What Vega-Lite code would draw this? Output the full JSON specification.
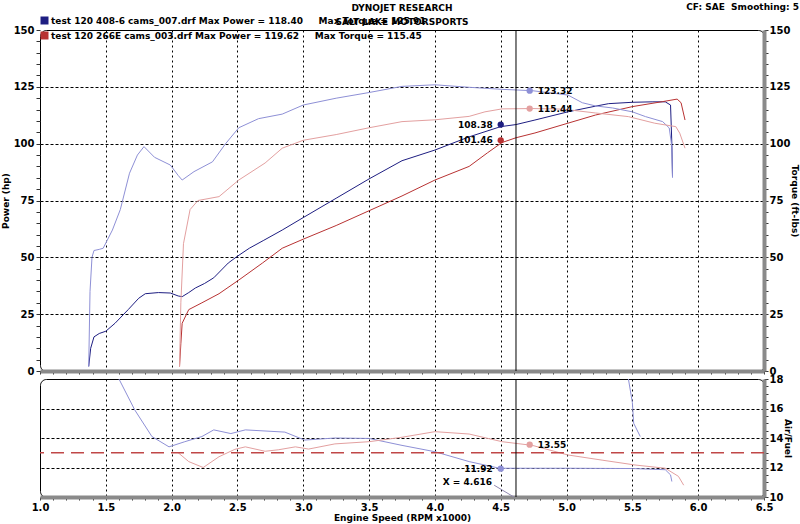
{
  "$schema": "https://vega.github.io/schema/vega-lite/v6.json",
  "background": "white",
  "padding": {"left": 0, "top": 2, "right": 0, "bottom": 0},
  "config": {
    "font": "DejaVu Sans",
    "view": {"stroke": "#000", "strokeWidth": 1, "cornerRadius": 6},
    "axis": {"labelFont": "DejaVu Sans", "labelFontWeight": "bold", "labelFontSize": 10, "labelColor": "#000", "titleFont": "DejaVu Sans", "titleFontSize": 9, "titleFontWeight": "bold", "titleColor": "#000"}
  },
  "datasets": {
    "power": [
      {"rpm": 1.37, "v": 2, "series": "p408"}, {"rpm": 1.385, "v": 10, "series": "p408"}, {"rpm": 1.41, "v": 15, "series": "p408"}, {"rpm": 1.45, "v": 16.5, "series": "p408"}, {"rpm": 1.5, "v": 17.5, "series": "p408"}, {"rpm": 1.57, "v": 21, "series": "p408"}, {"rpm": 1.67, "v": 27, "series": "p408"}, {"rpm": 1.75, "v": 32, "series": "p408"}, {"rpm": 1.8, "v": 34, "series": "p408"}, {"rpm": 1.9, "v": 34.5, "series": "p408"}, {"rpm": 1.99, "v": 34.3, "series": "p408"}, {"rpm": 2.05, "v": 33, "series": "p408"}, {"rpm": 2.08, "v": 32.7, "series": "p408"}, {"rpm": 2.13, "v": 34.5, "series": "p408"}, {"rpm": 2.18, "v": 36.5, "series": "p408"}, {"rpm": 2.25, "v": 38.5, "series": "p408"}, {"rpm": 2.32, "v": 41, "series": "p408"}, {"rpm": 2.43, "v": 47.5, "series": "p408"}, {"rpm": 2.5, "v": 50.5, "series": "p408"}, {"rpm": 2.59, "v": 54, "series": "p408"}, {"rpm": 2.7, "v": 57.5, "series": "p408"}, {"rpm": 2.84, "v": 62, "series": "p408"}, {"rpm": 3.0, "v": 67.5, "series": "p408"}, {"rpm": 3.25, "v": 76, "series": "p408"}, {"rpm": 3.5, "v": 84.5, "series": "p408"}, {"rpm": 3.75, "v": 92.5, "series": "p408"}, {"rpm": 4.0, "v": 97.2, "series": "p408"}, {"rpm": 4.26, "v": 103, "series": "p408"}, {"rpm": 4.5, "v": 107.5, "series": "p408"}, {"rpm": 4.616, "v": 108.4, "series": "p408"}, {"rpm": 4.76, "v": 110.4, "series": "p408"}, {"rpm": 5.01, "v": 114, "series": "p408"}, {"rpm": 5.22, "v": 116.5, "series": "p408"}, {"rpm": 5.32, "v": 117.6, "series": "p408"}, {"rpm": 5.5, "v": 118.2, "series": "p408"}, {"rpm": 5.65, "v": 118.4, "series": "p408"}, {"rpm": 5.75, "v": 118.4, "series": "p408"}, {"rpm": 5.79, "v": 117, "series": "p408"}, {"rpm": 5.8, "v": 100, "series": "p408"}, {"rpm": 5.805, "v": 85.5, "series": "p408"},
      {"rpm": 2.06, "v": 2, "series": "p266"}, {"rpm": 2.07, "v": 12, "series": "p266"}, {"rpm": 2.08, "v": 21, "series": "p266"}, {"rpm": 2.13, "v": 27, "series": "p266"}, {"rpm": 2.23, "v": 30, "series": "p266"}, {"rpm": 2.36, "v": 34, "series": "p266"}, {"rpm": 2.51, "v": 40, "series": "p266"}, {"rpm": 2.69, "v": 47.5, "series": "p266"}, {"rpm": 2.84, "v": 54, "series": "p266"}, {"rpm": 3.0, "v": 58, "series": "p266"}, {"rpm": 3.25, "v": 64, "series": "p266"}, {"rpm": 3.5, "v": 70.5, "series": "p266"}, {"rpm": 3.75, "v": 77, "series": "p266"}, {"rpm": 4.0, "v": 84, "series": "p266"}, {"rpm": 4.26, "v": 90, "series": "p266"}, {"rpm": 4.4, "v": 96, "series": "p266"}, {"rpm": 4.51, "v": 100.5, "series": "p266"}, {"rpm": 4.616, "v": 102.6, "series": "p266"}, {"rpm": 4.76, "v": 104.7, "series": "p266"}, {"rpm": 5.01, "v": 109, "series": "p266"}, {"rpm": 5.22, "v": 112.6, "series": "p266"}, {"rpm": 5.5, "v": 116.3, "series": "p266"}, {"rpm": 5.73, "v": 118.5, "series": "p266"}, {"rpm": 5.84, "v": 119.6, "series": "p266"}, {"rpm": 5.87, "v": 118, "series": "p266"}, {"rpm": 5.9, "v": 110.4, "series": "p266"}
    ],
    "torque": [
      {"rpm": 1.37, "v": 2, "series": "t408"}, {"rpm": 1.38, "v": 35, "series": "t408"}, {"rpm": 1.395, "v": 50, "series": "t408"}, {"rpm": 1.41, "v": 53, "series": "t408"}, {"rpm": 1.45, "v": 53.5, "series": "t408"}, {"rpm": 1.48, "v": 54, "series": "t408"}, {"rpm": 1.55, "v": 62, "series": "t408"}, {"rpm": 1.61, "v": 71, "series": "t408"}, {"rpm": 1.68, "v": 87, "series": "t408"}, {"rpm": 1.74, "v": 95, "series": "t408"}, {"rpm": 1.79, "v": 98.7, "series": "t408"}, {"rpm": 1.87, "v": 94, "series": "t408"}, {"rpm": 1.99, "v": 90.6, "series": "t408"}, {"rpm": 2.05, "v": 86, "series": "t408"}, {"rpm": 2.08, "v": 84, "series": "t408"}, {"rpm": 2.17, "v": 87.7, "series": "t408"}, {"rpm": 2.31, "v": 92, "series": "t408"}, {"rpm": 2.41, "v": 100, "series": "t408"}, {"rpm": 2.51, "v": 107, "series": "t408"}, {"rpm": 2.66, "v": 111, "series": "t408"}, {"rpm": 2.84, "v": 113, "series": "t408"}, {"rpm": 3.0, "v": 117, "series": "t408"}, {"rpm": 3.25, "v": 120, "series": "t408"}, {"rpm": 3.5, "v": 122.5, "series": "t408"}, {"rpm": 3.75, "v": 125.2, "series": "t408"}, {"rpm": 4.0, "v": 125.9, "series": "t408"}, {"rpm": 4.26, "v": 124.8, "series": "t408"}, {"rpm": 4.51, "v": 123.9, "series": "t408"}, {"rpm": 4.74, "v": 123.3, "series": "t408"}, {"rpm": 5.01, "v": 121.4, "series": "t408"}, {"rpm": 5.12, "v": 118, "series": "t408"}, {"rpm": 5.22, "v": 116.6, "series": "t408"}, {"rpm": 5.35, "v": 115.7, "series": "t408"}, {"rpm": 5.5, "v": 114, "series": "t408"}, {"rpm": 5.6, "v": 111.9, "series": "t408"}, {"rpm": 5.73, "v": 109.7, "series": "t408"}, {"rpm": 5.78, "v": 106.9, "series": "t408"}, {"rpm": 5.8, "v": 98.7, "series": "t408"}, {"rpm": 5.805, "v": 85, "series": "t408"},
      {"rpm": 2.06, "v": 2, "series": "t266"}, {"rpm": 2.07, "v": 30, "series": "t266"}, {"rpm": 2.09, "v": 56, "series": "t266"}, {"rpm": 2.14, "v": 71, "series": "t266"}, {"rpm": 2.2, "v": 75, "series": "t266"}, {"rpm": 2.36, "v": 76.7, "series": "t266"}, {"rpm": 2.51, "v": 84, "series": "t266"}, {"rpm": 2.71, "v": 91.5, "series": "t266"}, {"rpm": 2.84, "v": 98, "series": "t266"}, {"rpm": 3.0, "v": 101.5, "series": "t266"}, {"rpm": 3.25, "v": 104, "series": "t266"}, {"rpm": 3.5, "v": 107, "series": "t266"}, {"rpm": 3.75, "v": 109.7, "series": "t266"}, {"rpm": 4.0, "v": 110.5, "series": "t266"}, {"rpm": 4.26, "v": 112, "series": "t266"}, {"rpm": 4.38, "v": 114, "series": "t266"}, {"rpm": 4.51, "v": 115.3, "series": "t266"}, {"rpm": 4.74, "v": 115.45, "series": "t266"}, {"rpm": 4.97, "v": 115.2, "series": "t266"}, {"rpm": 5.22, "v": 113.5, "series": "t266"}, {"rpm": 5.47, "v": 111.9, "series": "t266"}, {"rpm": 5.67, "v": 109, "series": "t266"}, {"rpm": 5.83, "v": 107.5, "series": "t266"}, {"rpm": 5.86, "v": 104.6, "series": "t266"}, {"rpm": 5.9, "v": 98, "series": "t266"}
    ],
    "afr": [
      {"rpm": 1.6, "v": 18, "series": "a408"}, {"rpm": 1.72, "v": 15.9, "series": "a408"}, {"rpm": 1.85, "v": 14.1, "series": "a408"}, {"rpm": 1.98, "v": 13.4, "series": "a408"}, {"rpm": 2.1, "v": 13.75, "series": "a408"}, {"rpm": 2.23, "v": 14.1, "series": "a408"}, {"rpm": 2.32, "v": 14.55, "series": "a408"}, {"rpm": 2.45, "v": 14.3, "series": "a408"}, {"rpm": 2.56, "v": 14.55, "series": "a408"}, {"rpm": 2.86, "v": 14.4, "series": "a408"}, {"rpm": 3.01, "v": 13.86, "series": "a408"}, {"rpm": 3.24, "v": 14.0, "series": "a408"}, {"rpm": 3.5, "v": 13.97, "series": "a408"}, {"rpm": 3.75, "v": 13.5, "series": "a408"}, {"rpm": 4.0, "v": 13.07, "series": "a408"}, {"rpm": 4.26, "v": 12.4, "series": "a408"}, {"rpm": 4.49, "v": 11.95, "series": "a408"}, {"rpm": 4.75, "v": 11.95, "series": "a408"}, {"rpm": 5.0, "v": 11.95, "series": "a408"}, {"rpm": 5.5, "v": 11.93, "series": "a408"}, {"rpm": 5.75, "v": 11.85, "series": "a408"}, {"rpm": 5.79, "v": 11.5, "series": "a408"}, {"rpm": 5.8, "v": 11.05, "series": "a408"},
      {"rpm": 5.47, "v": 18, "series": "a408b"}, {"rpm": 5.5, "v": 16.4, "series": "a408b"}, {"rpm": 5.51, "v": 15.0, "series": "a408b"}, {"rpm": 5.56, "v": 14.1, "series": "a408b"},
      {"rpm": 2.05, "v": 13.0, "series": "a266"}, {"rpm": 2.13, "v": 12.4, "series": "a266"}, {"rpm": 2.24, "v": 12.0, "series": "a266"}, {"rpm": 2.36, "v": 12.73, "series": "a266"}, {"rpm": 2.48, "v": 13.23, "series": "a266"}, {"rpm": 2.56, "v": 13.4, "series": "a266"}, {"rpm": 2.71, "v": 13.1, "series": "a266"}, {"rpm": 2.81, "v": 13.2, "series": "a266"}, {"rpm": 2.94, "v": 13.4, "series": "a266"}, {"rpm": 3.04, "v": 13.25, "series": "a266"}, {"rpm": 3.24, "v": 13.6, "series": "a266"}, {"rpm": 3.5, "v": 13.75, "series": "a266"}, {"rpm": 3.75, "v": 14.05, "series": "a266"}, {"rpm": 4.0, "v": 14.43, "series": "a266"}, {"rpm": 4.26, "v": 14.27, "series": "a266"}, {"rpm": 4.51, "v": 13.75, "series": "a266"}, {"rpm": 4.74, "v": 13.5, "series": "a266"}, {"rpm": 5.01, "v": 12.85, "series": "a266"}, {"rpm": 5.27, "v": 12.5, "series": "a266"}, {"rpm": 5.52, "v": 12.17, "series": "a266"}, {"rpm": 5.75, "v": 11.95, "series": "a266"}, {"rpm": 5.85, "v": 11.4, "series": "a266"}, {"rpm": 5.89, "v": 10.8, "series": "a266"}
    ],
    "marks": [
      {"rpm": 4.72, "v": 123.32, "series": "t408", "lab": "123.32", "side": "r"},
      {"rpm": 4.72, "v": 115.44, "series": "t266", "lab": "115.44", "side": "r"},
      {"rpm": 4.5, "v": 108.38, "series": "p408", "lab": "108.38", "side": "l"},
      {"rpm": 4.5, "v": 101.46, "series": "p266", "lab": "101.46", "side": "l"}
    ],
    "marksb": [
      {"rpm": 4.72, "v": 13.55, "series": "a266", "lab": "13.55", "side": "r"},
      {"rpm": 4.5, "v": 11.92, "series": "a408", "lab": "11.92", "side": "l"}
    ]
  },
  "vconcat": [
    {
      "width": 724,
      "height": 341,
      "title": {"text": ["DYNOJET RESEARCH", "SALT LAKE MOTORSPORTS"], "anchor": "middle", "frame": "group", "fontSize": 9, "fontWeight": "bold", "font": "DejaVu Sans", "lineHeight": 14, "offset": -24, "color": "#000"},
      "resolve": {"axis": {"x": "independent", "y": "independent"}},
      "layer": [
        {
          "data": {"name": "marks"},
          "mark": {"type": "point", "filled": true, "opacity": 1, "size": 40},
          "encoding": {
            "x": {"field": "rpm", "type": "quantitative", "scale": {"domain": [1, 6.5], "nice": false, "zero": false}, "axis": null},
            "y": {"field": "v", "type": "quantitative", "scale": {"domain": [0, 150], "nice": false}, "axis": null},
            "color": {"field": "series", "type": "nominal",
              "scale": {"domain": ["p408", "t408", "p266", "t266"], "range": ["#1e1e82", "#8e90d6", "#b83232", "#e3a0a0"]},
              "legend": {"orient": "none", "legendX": 0, "legendY": -14, "title": null, "values": ["p408", "p266"], "symbolType": "square", "symbolSize": 64, "symbolStrokeWidth": 0, "padding": 0, "rowPadding": 5, "labelOffset": 2, "labelFont": "DejaVu Sans", "labelFontWeight": "bold", "labelFontSize": 9, "labelColor": "#000", "labelLimit": 0,
                "labelExpr": "datum.value == 'p408' ? 'test 120 408-6 cams_007.drf Max Power = 118.40\u00a0\u00a0\u00a0\u00a0\u00a0Max Torque = 125.91' : 'test 120 266E cams_003.drf Max Power = 119.62\u00a0\u00a0\u00a0\u00a0\u00a0Max Torque = 115.45'"}}
          }
        },
        {
          "data": {"name": "power"},
          "mark": {"type": "line", "strokeWidth": 1},
          "encoding": {
            "x": {"field": "rpm", "type": "quantitative",
              "axis": {"orient": "bottom", "values": [1,1.1,1.2,1.3,1.4,1.5,1.6,1.7,1.8,1.9,2,2.1,2.2,2.3,2.4,2.5,2.6,2.7,2.8,2.9,3,3.1,3.2,3.3,3.4,3.5,3.6,3.7,3.8,3.9,4,4.1,4.2,4.3,4.4,4.5,4.6,4.7,4.8,4.9,5,5.1,5.2,5.3,5.4,5.5,5.6,5.7,5.8,5.9,6,6.1,6.2,6.3,6.4,6.5],
                "labels": false, "title": null, "tickSize": 3, "tickColor": "#333", "domainColor": "#8a8a8a", "domainWidth": 4, "grid": false}},
            "y": {"field": "v", "type": "quantitative",
              "axis": {"orient": "left", "values": [0,5,10,15,20,25,30,35,40,45,50,55,60,65,70,75,80,85,90,95,100,105,110,115,120,125,130,135,140,145,150],
                "labelExpr": "datum.value % 25 == 0 ? datum.label : ''", "labelOverlap": false, "tickSize": 4, "tickColor": "#333", "domain": false,
                "grid": true, "gridColor": "#000", "gridDash": [3, 2],
                "gridOpacity": {"condition": {"test": "datum.value % 25 == 0 && datum.value > 0 && datum.value < 150", "value": 1}, "value": 0},
                "title": "Power (hp)", "titlePadding": 3, "labelPadding": 2}},
            "color": {"field": "series", "type": "nominal"}
          }
        },
        {
          "data": {"name": "torque"},
          "mark": {"type": "line", "strokeWidth": 1},
          "encoding": {
            "x": {"field": "rpm", "type": "quantitative",
              "axis": {"orient": "bottom", "values": [1.5, 2, 2.5, 3, 3.5, 4, 4.5, 5, 5.5, 6], "grid": true, "gridColor": "#000", "gridDash": [2, 3], "labels": false, "ticks": false, "domain": false, "title": null}},
            "y": {"field": "v", "type": "quantitative",
              "axis": {"orient": "right", "values": [0,5,10,15,20,25,30,35,40,45,50,55,60,65,70,75,80,85,90,95,100,105,110,115,120,125,130,135,140,145,150],
                "labelExpr": "datum.value % 25 == 0 ? datum.label : ''", "labelOverlap": false, "tickSize": 4, "tickColor": "#333",
                "domainColor": "#8a8a8a", "domainWidth": 4, "grid": false,
                "title": "Torque (ft-lbs)", "titlePadding": 0, "labelPadding": 1}},
            "color": {"field": "series", "type": "nominal"}
          }
        },
        {
          "data": {"values": [{}]},
          "mark": {"type": "rule", "color": "#000", "strokeWidth": 1},
          "encoding": {"x": {"datum": 4.616, "type": "quantitative", "axis": null}}
        },
        {
          "data": {"name": "marks"},
          "transform": [{"filter": "datum.side == 'r'"}],
          "mark": {"type": "text", "align": "left", "baseline": "middle", "dx": 8, "fontSize": 9, "fontWeight": "bold", "color": "#000"},
          "encoding": {
            "x": {"field": "rpm", "type": "quantitative", "axis": null},
            "y": {"field": "v", "type": "quantitative", "axis": null},
            "text": {"field": "lab"}
          }
        },
        {
          "data": {"name": "marks"},
          "transform": [{"filter": "datum.side == 'l'"}],
          "mark": {"type": "text", "align": "right", "baseline": "middle", "dx": -8, "fontSize": 9, "fontWeight": "bold", "color": "#000"},
          "encoding": {
            "x": {"field": "rpm", "type": "quantitative", "axis": null},
            "y": {"field": "v", "type": "quantitative", "axis": null},
            "text": {"field": "lab"}
          }
        },
        {
          "data": {"values": [{"t": "CF: SAE\u00a0\u00a0Smoothing: 5"}]},
          "mark": {"type": "text", "align": "right", "baseline": "middle", "dx": 35, "dy": -23, "fontSize": 9, "fontWeight": "bold", "color": "#000"},
          "encoding": {
            "x": {"datum": 6.5, "type": "quantitative", "axis": null},
            "y": {"datum": 150, "type": "quantitative", "axis": null},
            "text": {"field": "t"}
          }
        }
      ]
    },
    {
      "width": 724,
      "height": 118,
      "resolve": {"axis": {"x": "independent", "y": "independent"}},
      "layer": [
        {
          "data": {"name": "afr"},
          "mark": {"type": "line", "strokeWidth": 1},
          "encoding": {
            "x": {"field": "rpm", "type": "quantitative", "scale": {"domain": [1, 6.5], "nice": false, "zero": false},
              "axis": {"orient": "bottom", "values": [1,1.1,1.2,1.3,1.4,1.5,1.6,1.7,1.8,1.9,2,2.1,2.2,2.3,2.4,2.5,2.6,2.7,2.8,2.9,3,3.1,3.2,3.3,3.4,3.5,3.6,3.7,3.8,3.9,4,4.1,4.2,4.3,4.4,4.5,4.6,4.7,4.8,4.9,5,5.1,5.2,5.3,5.4,5.5,5.6,5.7,5.8,5.9,6,6.1,6.2,6.3,6.4,6.5],
                "labelExpr": "abs(datum.value*2 - round(datum.value*2)) < 0.001 ? format(datum.value, '.1f') : ''", "labelOverlap": false, "labelFlush": false,
                "tickSize": 3, "tickColor": "#333", "domainColor": "#8a8a8a", "domainWidth": 4, "labelPadding": 2, "grid": false,
                "title": "Engine Speed (RPM x1000)", "titlePadding": 1}},
            "y": {"field": "v", "type": "quantitative", "scale": {"domain": [10, 18], "nice": false, "zero": false},
              "axis": {"orient": "right", "values": [10,10.5,11,11.5,12,12.5,13,13.5,14,14.5,15,15.5,16,16.5,17,17.5,18],
                "labelExpr": "datum.value % 2 == 0 ? format(datum.value, 'd') : ''", "labelOverlap": false, "tickSize": 4, "tickColor": "#333",
                "domainColor": "#8a8a8a", "domainWidth": 4,
                "grid": true, "gridColor": "#000", "gridDash": [3, 2],
                "gridOpacity": {"condition": {"test": "datum.value % 2 == 0 && datum.value > 10 && datum.value < 18", "value": 1}, "value": 0},
                "title": "Air/Fuel", "titlePadding": 0, "labelPadding": 1}},
            "color": {"field": "series", "type": "nominal", "scale": {"domain": ["a408", "a408b", "a266"], "range": ["#8e90d6", "#8e90d6", "#e3a0a0"]}, "legend": null}
          }
        },
        {
          "data": {"values": [{}]},
          "mark": {"type": "rule", "color": "#c04848", "strokeWidth": 1.5, "strokeDash": [13, 7]},
          "encoding": {"y": {"datum": 13, "type": "quantitative", "axis": null}}
        },
        {
          "data": {"values": [{}]},
          "mark": {"type": "rule", "color": "#000", "strokeWidth": 1},
          "encoding": {"x": {"datum": 4.616, "type": "quantitative", "axis": null}}
        },
        {
          "data": {"values": [{}]},
          "mark": {"type": "rule", "color": "#9088b0", "strokeWidth": 1},
          "encoding": {
            "x": {"datum": 4.45, "type": "quantitative", "axis": null},
            "y": {"datum": 10.8, "type": "quantitative", "axis": null},
            "x2": {"datum": 4.6},
            "y2": {"datum": 10.0}
          }
        },
        {
          "data": {"name": "marksb"},
          "mark": {"type": "point", "filled": true, "opacity": 1, "size": 40},
          "encoding": {
            "x": {"field": "rpm", "type": "quantitative",
              "axis": {"orient": "bottom", "values": [1.5, 2, 2.5, 3, 3.5, 4, 4.5, 5, 5.5, 6], "grid": true, "gridColor": "#000", "gridDash": [2, 3], "labels": false, "ticks": false, "domain": false, "title": null}},
            "y": {"field": "v", "type": "quantitative", "axis": null},
            "color": {"field": "series", "type": "nominal", "legend": null}
          }
        },
        {
          "data": {"name": "marksb"},
          "transform": [{"filter": "datum.side == 'r'"}],
          "mark": {"type": "text", "align": "left", "baseline": "middle", "dx": 8, "fontSize": 9, "fontWeight": "bold", "color": "#000"},
          "encoding": {
            "x": {"field": "rpm", "type": "quantitative", "axis": null},
            "y": {"field": "v", "type": "quantitative", "axis": null},
            "text": {"field": "lab"}
          }
        },
        {
          "data": {"name": "marksb"},
          "transform": [{"filter": "datum.side == 'l'"}],
          "mark": {"type": "text", "align": "right", "baseline": "middle", "dx": -8, "fontSize": 9, "fontWeight": "bold", "color": "#000"},
          "encoding": {
            "x": {"field": "rpm", "type": "quantitative", "axis": null},
            "y": {"field": "v", "type": "quantitative", "axis": null},
            "text": {"field": "lab"}
          }
        },
        {
          "data": {"values": [{"t": "X = 4.616"}]},
          "mark": {"type": "text", "align": "right", "baseline": "middle", "dx": -24, "fontSize": 9, "fontWeight": "bold", "color": "#000"},
          "encoding": {
            "x": {"datum": 4.616, "type": "quantitative", "axis": null},
            "y": {"datum": 11.0, "type": "quantitative", "axis": null},
            "text": {"field": "t"}
          }
        }
      ]
    }
  ],
  "spacing": 8,
  "bounds": "flush",
  "resolve": {"scale": {"color": "independent"}, "legend": {"color": "independent"}}
}
